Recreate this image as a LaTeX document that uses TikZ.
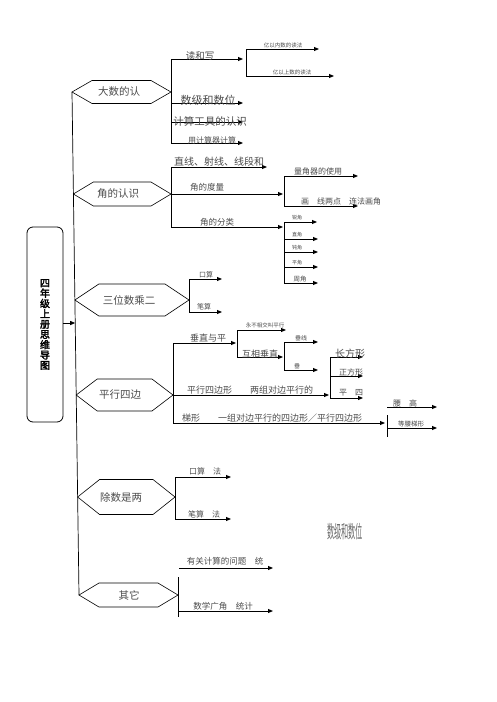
\documentclass[tikz,border=0pt]{standalone}
\usepackage{fontspec}
\newfontfamily\cjk{Noto Sans CJK SC}
\newfontfamily\cjkb[FakeBold=2.5]{Noto Sans CJK SC}
\usetikzlibrary{arrows.meta}
\tikzset{
  hexline/.style={draw=black, line width=0.6pt},
  hextext/.style={font=\cjk\fontsize{10.5}{10.5}\selectfont, text=black!70, inner sep=0pt},
  br/.style={line width=0.9pt, draw=black},
  arr/.style={br, -{Triangle[length=5pt,width=4pt]}},
  lbl/.style={font=\cjk\fontsize{#1}{#1}\selectfont, text=black!70, inner sep=0pt},
  lbl/.default=9,
  spine/.style={draw=black, line width=0.7pt},
}
\newcommand\hexnode[8]{%
  \coordinate (#1-l) at (#2,#4);
  \coordinate (#1-r) at (#3,#4);
  \draw[hexline] (#1-l) -- ({#2+#6},{#4-#5}) -- ({#3-#6},{#4-#5}) -- (#1-r) -- ({#3-#6},{#4+#5}) -- ({#2+#6},{#4+#5}) -- cycle;
  \node[hextext] (#1) at (#7,#4) {#8};
}
\newcommand\harrow[4]{\coordinate (#1-s) at (#2,#3); \coordinate (#1-e) at (#4,#3); \draw[arr] (#1-s) -- (#1-e);}
\newcommand\vbar[4]{\coordinate (#1-t) at (#2,#3); \coordinate (#1-b) at (#2,#4); \draw[br] (#1-t) -- (#1-b);}
\begin{document}
\begin{tikzpicture}[x=1pt,y=-1pt]
\useasboundingbox (0,0) rectangle (496,702);
\fill[white] (0,0) rectangle (496,702);

% main box
\node[draw, line width=0.8pt, rounded corners=6pt, minimum width=36pt, minimum height=195pt, inner sep=0pt, align=center, font=\cjkb\fontsize{10}{10.3}\selectfont] (main) at (45,324.5) {四\\年\\级\\上\\册\\思\\维\\导\\图};

% hexagons
\hexnode{h1}{72}{171}{92}{11.5}{20}{119}{大数的认}
\hexnode{h2}{73.4}{171}{194}{12}{20}{118}{角的认识}
\hexnode{h3}{74.9}{189}{300}{16}{24}{129}{三位数乘二}
\hexnode{h4}{76.2}{173}{395}{16}{21}{120}{平行四边}
\hexnode{h5}{77.6}{175}{497}{17.5}{22}{121}{除数是两}
\hexnode{h6}{79}{178}{595}{12}{20}{129}{其它}

% spine and main arrow
\draw[spine] (h1-l) -- (h6-l);
\coordinate (sp) at (75.2,323);
\draw[arr] (main.east |- sp) -- (sp);

% branch 1
\vbar{v1}{171}{59}{143}
\harrow{a11}{171}{59}{243}
\harrow{a12}{171}{103}{243}
\harrow{a13}{171}{122}{243}
\harrow{a14}{171}{143}{243}
\node[lbl=9.5] (t11) at (200,56) {读和写};
\node[lbl=11] (t12) at (208,100) {数级和数位};
\node[lbl=10.5] (t13) at (210,121) {计算工具的认识};
\node[lbl=8] (t14) at (212,140) {用计算器计算};
\vbar{v11}{246}{49}{76}
\harrow{a111}{246}{49}{319}
\harrow{a112}{246}{76}{334}
\node[lbl=5.5] (t111) at (283,45) {亿以内数的读法};
\node[lbl=5.5] (t112) at (292,72) {亿以上数的读法};

% branch 2
\vbar{v2}{171}{167}{227}
\harrow{a21}{171}{167}{267}
\harrow{a22}{171}{194}{283}
\harrow{a23}{171}{227}{283}
\node[lbl=10] (t21) at (219,162) {直线、射线、线段和};
\node[lbl=8.5] (t22) at (207,187) {角的度量};
\node[lbl=8.5] (t23) at (217,222) {角的分类};
\vbar{v22}{284}{176}{206}
\harrow{a221}{284}{176}{358}
\harrow{a222}{284}{206}{358}
\node[lbl=8] (t221) at (318,171) {量角器的使用};
\node[lbl=8] (t222) at (341,201) {画　线两点　连法画角};
\vbar{v23}{284}{222}{283}
\harrow{a231}{284}{222}{317}
\harrow{a232}{284}{239}{318}
\harrow{a233}{284}{252}{318}
\harrow{a234}{284}{267}{318}
\harrow{a235}{284}{283}{318}
\node[lbl=5] (t231) at (297,218) {锐角};
\node[lbl=5] (t232) at (297,235) {直角};
\node[lbl=5] (t233) at (297,248) {钝角};
\node[lbl=5] (t234) at (297,263) {平角};
\node[lbl=6.5] (t235) at (300,279) {周角};

% branch 3
\vbar{v3}{189}{279}{312}
\harrow{a31}{189}{279}{222}
\harrow{a32}{189}{312}{222}
\node[lbl=7] (t31) at (206,275) {口算};
\node[lbl=7] (t32) at (204,307) {笔算};

% branch 4
\vbar{v4}{173}{343}{423}
\harrow{a41}{173}{343}{236}
\harrow{a42}{173}{395}{329}
\harrow{a43}{173}{423}{385}
\node[lbl=9] (t41) at (208,338) {垂直与平};
\node[lbl=9] (t42) at (250,390) {平行四边形　　两组对边平行的};
\node[lbl=9, anchor=west] (t43) at (182,418) {梯形　　一组对边平行的四边形／平行四边形};
\vbar{v41}{237}{330}{357}
\harrow{a411}{237}{330}{286}
\harrow{a412}{237}{357}{283}
\node[lbl=5.5] (t411) at (265,325) {永不相交叫平行};
\node[lbl=9] (t412) at (260,354) {互相垂直};
\vbar{v412}{284}{342}{370}
\harrow{a4121}{284}{342}{318}
\harrow{a4122}{284}{370}{318}
\node[lbl=6] (t4121) at (301,338) {垂线};
\node[lbl=6] (t4122) at (297,366) {垂};
\vbar{v42}{330}{357}{398}
\harrow{a421}{330}{357}{363}
\harrow{a422}{330}{376}{363}
\harrow{a423}{330}{398}{363}
\node[lbl=10] (t421) at (350,354) {长方形};
\node[lbl=8] (t422) at (351,372) {正方形};
\node[lbl=8] (t423) at (351,393) {平　四};
\vbar{v43}{387}{415}{437}
\harrow{a431}{387}{407}{437}
\harrow{a432}{387}{428}{437}
\node[lbl=8] (t431) at (405,403) {腰　高};
\node[lbl=6.5] (t432) at (411,424) {等腰梯形};

% branch 5
\vbar{v5}{175}{477}{519}
\harrow{a51}{175}{477}{231}
\harrow{a52}{175}{519}{231}
\node[lbl=8] (t51) at (205,471) {口算　法};
\node[lbl=8] (t52) at (204,514) {笔算　法};

% floating text
\node[font=\cjk\fontsize{18}{18}\selectfont, text=black!60, inner sep=0pt, xscale=0.4] (fl) at (345,532) {数级和数位};

% branch 6
\vbar{v6}{178}{577}{617}
\harrow{a61}{179}{568}{273}
\harrow{a62}{178}{611}{273}
\node[lbl=8.5] (t61) at (225,561) {有关计算的问题　统};
\node[lbl=8.5] (t62) at (223,606) {数学广角　统计};
\end{tikzpicture}
\end{document}
